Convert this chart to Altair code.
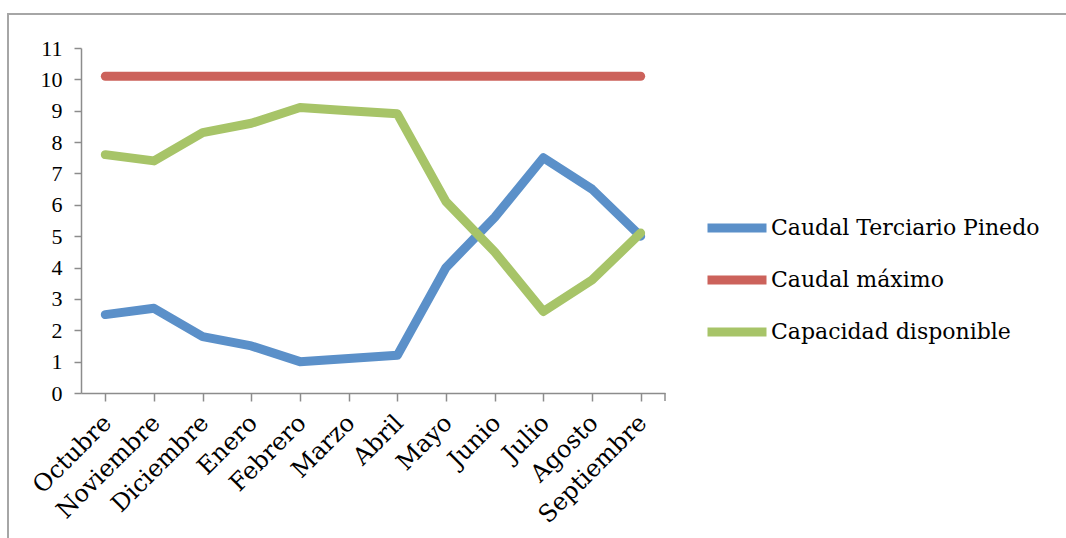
import altair as alt
import pandas as pd

months = ["Octubre", "Noviembre", "Diciembre", "Enero", "Febrero", "Marzo",
          "Abril", "Mayo", "Junio", "Julio", "Agosto", "Septiembre"]
caudal_pinedo = [2.5, 2.7, 1.8, 1.5, 1.0, 1.1, 1.2, 4.0, 5.6, 7.5, 6.5, 5.0]
caudal_maximo = [10.1, 10.1, 10.1, 10.1, 10.1, 10.1, 10.1, 10.1, 10.1, 10.1, 10.1, 10.1]
capacidad = [7.6, 7.4, 8.3, 8.6, 9.1, 9.0, 8.9, 6.1, 4.5, 2.6, 3.6, 5.1]
series_names = ["Caudal Terciario Pinedo", "Caudal máximo", "Capacidad disponible"]
series_colors = ["#5B90C9", "#CC625B", "#A7C468"]

rows = []
for name, vals in zip(series_names, [caudal_pinedo, caudal_maximo, capacidad]):
    for m, v in zip(months, vals):
        rows.append({"mes": m, "valor": v, "serie": name})
df = pd.DataFrame(rows)

W, H = 584, 345
YFONT = "Liberation Serif"
XFONT = "DejaVu Serif"

frame = alt.Chart(pd.DataFrame({"a": [0]})).mark_rect(
    fill=None, stroke="#A6A6A6", strokeWidth=2
).encode(
    x=alt.value(-73), x2=alt.value(1000), y=alt.value(-34), y2=alt.value(520)
)

lines = alt.Chart(df).mark_line(strokeWidth=9, strokeCap="round", strokeJoin="round").encode(
    x=alt.X("mes:N", sort=months, title=None,
            scale=alt.Scale(paddingInner=0, paddingOuter=0),
            axis=alt.Axis(labelAngle=-45, labelAlign="right", labelBaseline="middle",
                          labelFont=XFONT, labelFontSize=24, labelColor="#000000",
                          labelPadding=18, bandPosition=0, tickSize=8,
                          tickColor="#8C8C8C", domainColor="#8C8C8C",
                          tickWidth=1.5, domainWidth=1.5, grid=False,
                          labelOffset=2, labelLimit=0)),
    y=alt.Y("valor:Q", title=None,
            scale=alt.Scale(domain=[0, 11], nice=False, zero=True),
            axis=alt.Axis(values=list(range(0, 12)), labelFont=YFONT, labelFontSize=22,
                          labelColor="#000000", tickSize=7, labelPadding=12,
                          tickColor="#8C8C8C", domainColor="#8C8C8C",
                          tickWidth=1.5, domainWidth=1.5, grid=False)),
    color=alt.Color("serie:N", sort=series_names,
                    scale=alt.Scale(domain=series_names, range=series_colors),
                    legend=alt.Legend(title=None, orient="none", legendX=622, legendY=146,
                                      symbolType="stroke", symbolSize=3481,
                                      symbolStrokeWidth=9, labelFont=XFONT,
                                      labelFontSize=22, labelColor="#000000",
                                      labelOffset=0, rowPadding=0, labelLimit=0)),
    order=alt.Order("serie:N")
)

last_tick = alt.Chart(pd.DataFrame({"a": [0]})).mark_rule(
    color="#8C8C8C", strokeWidth=1.5
).encode(x=alt.value(W), y=alt.value(H), y2=alt.value(H + 8))

chart = alt.layer(frame, lines, last_tick).properties(
    width=W, height=H,
    autosize=alt.AutoSizeParams(type="none"),
    padding={"left": 81, "top": 48, "right": 401, "bottom": 145},
    background="white"
).configure_view(stroke=None)

chart.save("out.html", embed_options={"renderer": "svg", "actions": False})
